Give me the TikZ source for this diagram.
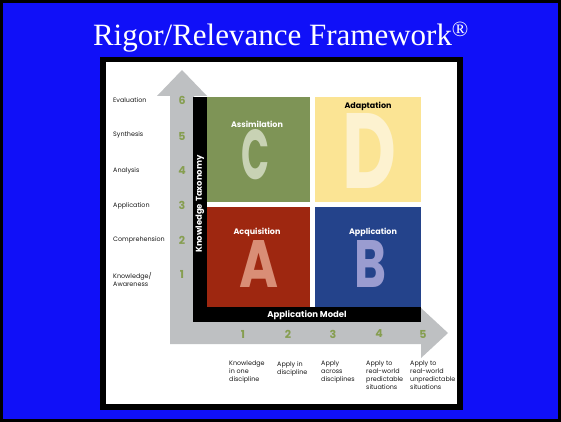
\documentclass[tikz,border=0pt]{standalone}
\usepackage{fontspec}
\usepackage{graphicx}
\setmainfont{Liberation Serif}
\newfontfamily\gothic{Poppins}
\usetikzlibrary{positioning}
\definecolor{slideblue}{RGB}{16,16,248}
\definecolor{arrowgray}{RGB}{190,192,194}
\definecolor{quadgreen}{RGB}{126,148,86}
\definecolor{quadyellow}{RGB}{251,228,148}
\definecolor{quadred}{RGB}{158,39,16}
\definecolor{quadblue}{RGB}{36,67,139}
\definecolor{lettC}{RGB}{200,210,180}
\definecolor{lettD}{RGB}{253,242,208}
\definecolor{lettA}{RGB}{217,142,118}
\definecolor{lettB}{RGB}{154,156,208}
\definecolor{levelgreen}{RGB}{134,158,80}
\tikzset{quad/.style={rectangle,anchor=north west,inner sep=0pt,draw=none},
    quadtitle/.style={font=\gothic\bfseries\fontsize{8}{8}\selectfont,text=white,inner sep=0pt},
    bigletter/.style={font=\gothic\bfseries,inner sep=0pt},
    levelname/.style={font=\gothic\fontsize{6.4}{8}\selectfont,text=black!90,anchor=west,inner sep=0pt,align=left},
    levelnum/.style={font=\gothic\bfseries\fontsize{11}{11}\selectfont,text=levelgreen,inner sep=0pt},
    modelname/.style={font=\gothic\fontsize{6.4}{8}\selectfont,text=black!90,anchor=north west,inner sep=0pt,align=left},
    barlabel/.style={font=\gothic\bfseries\fontsize{8.5}{9}\selectfont,text=white,inner sep=0pt}}

\begin{document}
\begin{tikzpicture}[x=1pt,y=-1pt]
\useasboundingbox (0,0) rectangle (561,422);
% slide background
\fill[black] (0,0) rectangle (561,422);
\fill[slideblue] (3,3) rectangle (558,419);
\node[font=\fontsize{31}{31}\selectfont,text=white,anchor=base,inner sep=0pt] (title) at (281,46)
    {Rigor/Relevance Framework\textsuperscript{\textregistered}};
% picture frame
\fill[black] (100,57) rectangle (463,410);
\fill[white] (106,62) rectangle (457,404);
% gray axes arrows
\fill[arrowgray] (170,96) -- (157,96) -- (182,70) -- (207,96) -- (194,96) -- (194,322)
    -- (421,322) -- (421,308) -- (448,333) -- (421,358) -- (421,344) -- (170,344) -- cycle;
% black bars
\fill[black] (193,97) rectangle (207,322);
\fill[black] (193,307) rectangle (421,322);
\node[barlabel,rotate=90] (taxonomy) at (200,204) {Knowledge Taxonomy};
\node[barlabel] (model) at (307,315) {Application Model};
% quadrants
\node[quad,fill=quadgreen,minimum width=103,minimum height=105] (qC) at (207,97) {};
\node[quad,fill=quadyellow,minimum width=106,minimum height=105] (qD) at (315,97) {};
\node[quad,fill=quadred,minimum width=103,minimum height=100] (qA) at (207,207) {};
\node[quad,fill=quadblue,minimum width=106,minimum height=100] (qB) at (315,207) {};
\node[quadtitle] (tC) at (257,124) {Assimilation};
\node[quadtitle,text=black] (tD) at (368,106) {Adaptation};
\node[quadtitle] (tA) at (257,232) {Acquisition};
\node[quadtitle] (tB) at (373,232) {Application};
\node[bigletter,text=lettC] (lC) at (255,155) {\resizebox{28pt}{50pt}{C}};
\node[bigletter,text=lettD] (lD) at (369,151) {\resizebox{54pt}{75pt}{D}};
\node[bigletter,text=lettA] (lA) at (259,264) {\resizebox{39pt}{47pt}{A}};
\node[bigletter,text=lettB] (lB) at (370,264) {\resizebox{32pt}{47pt}{B}};
% knowledge levels
\node[levelname] (k6) at (113,100) {Evaluation};
\node[levelname] (k5) at (113,135) {Synthesis};
\node[levelname] (k4) at (113,171) {Analysis};
\node[levelname] (k3) at (113,206) {Application};
\node[levelname] (k2) at (113,240) {Comprehension};
\node[levelname] (k1) at (113,280) {Knowledge/\\Awareness};
\foreach \n/\y in {6/100,5/136,4/171,3/205,2/240,1/274}
    \node[levelnum] (n\n) at (182,\y) {\n};
% application levels
\foreach \n/\x in {1/243,2/288,3/333,4/379,5/423}
    \node[levelnum] (m\n) at (\x,334) {\n};
\node[modelname] (a1) at (229,361) {Knowledge\\in one\\discipline};
\node[modelname] (a2) at (277,361) {Apply in\\discipline};
\node[modelname] (a3) at (321,361) {Apply\\across\\disciplines};
\node[modelname] (a4) at (366,361) {Apply to\\real-world\\predictable\\situations};
\node[modelname] (a5) at (410,361) {Apply to\\real-world\\unpredictable\\situations};
\end{tikzpicture}
\end{document}
